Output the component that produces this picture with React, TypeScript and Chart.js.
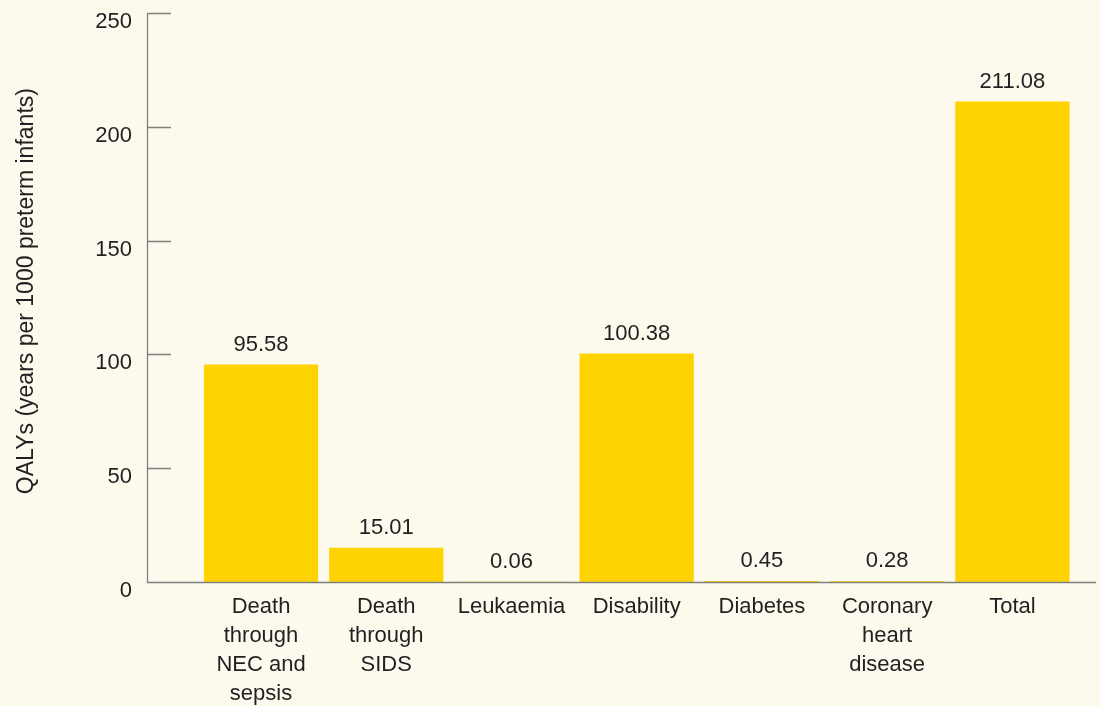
import React, { useEffect, useRef } from "react";
import { Chart, registerables } from "chart.js";

Chart.register(...registerables);

const categories: string[][] = [
  ["Death", "through", "NEC and", "sepsis"],
  ["Death", "through", "SIDS"],
  ["Leukaemia"],
  ["Disability"],
  ["Diabetes"],
  ["Coronary", "heart", "disease"],
  ["Total"],
];
const values: number[] = [95.58, 15.01, 0.06, 100.38, 0.45, 0.28, 211.08];
const yTicks: number[] = [0, 50, 100, 150, 200, 250];
const yTitle = "  QALYs (years per 1000 preterm infants)";

const BG = "#fdf9ec";
const BAR = "#ffd300";
const TEXT = "#231f20";
const AXIS = "#7f7f7f";
const FONT = "'Liberation Sans', Arial, Helvetica, sans-serif";

const axesPlugin = {
  id: "customAxes",
  afterDatasetsDraw(chart: any) {
    const { ctx, scales } = chart;
    const y = scales.y;
    const axisX = 147.5;
    const y0 = Math.round(y.getPixelForValue(0)) + 0.5;
    const yTop = Math.round(y.getPixelForValue(250)) + 0.5;
    ctx.save();
    ctx.strokeStyle = AXIS;
    ctx.lineWidth = 1.3;
    ctx.beginPath();
    ctx.moveTo(axisX, yTop);
    ctx.lineTo(axisX, y0);
    ctx.lineTo(1096, y0);
    yTicks.forEach((t) => {
      if (t === 0) return;
      const py = Math.round(y.getPixelForValue(t)) + 0.5;
      ctx.moveTo(axisX, py);
      ctx.lineTo(171, py);
    });
    ctx.stroke();

    // value labels
    const meta = chart.getDatasetMeta(0);
    ctx.fillStyle = TEXT;
    ctx.font = `22px ${FONT}`;
    ctx.textAlign = "center";
    ctx.textBaseline = "middle";
    meta.data.forEach((bar: any, i: number) => {
      ctx.fillText(values[i].toFixed(2), bar.x, bar.y - 20);
    });
    ctx.restore();
  },
};

export default function App() {
  const ref = useRef<HTMLCanvasElement>(null);
  useEffect(() => {
    if (!ref.current) return;
    const chart = new Chart(ref.current, {
      type: "bar",
      data: {
        labels: categories,
        datasets: [
          {
            data: values,
            backgroundColor: BAR,
            borderWidth: 0,
            barPercentage: 0.912,
            categoryPercentage: 1,
          },
        ],
      },
      options: {
        animation: false,
        responsive: false,
        maintainAspectRatio: false,
        layout: { padding: { top: 13, right: 25, left: 0, bottom: 0 } },
        plugins: {
          legend: { display: false },
          tooltip: { enabled: false },
        },
        scales: {
          x: {
            grid: { display: false, drawTicks: false },
            border: { display: false },
            ticks: {
              color: TEXT,
              font: { family: FONT, size: 22, lineHeight: 1.32 },
              padding: 10,
              maxRotation: 0,
              autoSkip: false,
            },
            afterFit(scale: any) {
              scale.height = 124;
              scale.paddingLeft = 0;
              scale.paddingRight = 0;
            },
          },
          y: {
            min: 0,
            max: 250,
            grid: { display: false, drawTicks: false },
            border: { display: false },
            afterBuildTicks(scale: any) {
              scale.ticks = yTicks.map((v) => ({ value: v }));
            },
            ticks: {
              color: TEXT,
              font: { family: FONT, size: 22 },
              padding: 66.4,
              labelOffset: 9,
            },
            title: {
              display: true,
              text: yTitle,
              color: TEXT,
              font: { family: FONT, size: 23 },
              padding: { top: 13, bottom: 0 },
            },
            afterFit(scale: any) {
              scale.width = 198.4;
              scale.paddingTop = 0;
              scale.paddingBottom = 0;
            },
          },
        },
      },
      plugins: [axesPlugin],
    });
    return () => chart.destroy();
  }, []);
  return (
    <div
      style={{
        position: "fixed",
        left: 0,
        top: 0,
        width: 1100,
        height: 706,
        background: BG,
      }}
    >
      <canvas ref={ref} width={1100} height={706} style={{ display: "block" }} />
    </div>
  );
}
